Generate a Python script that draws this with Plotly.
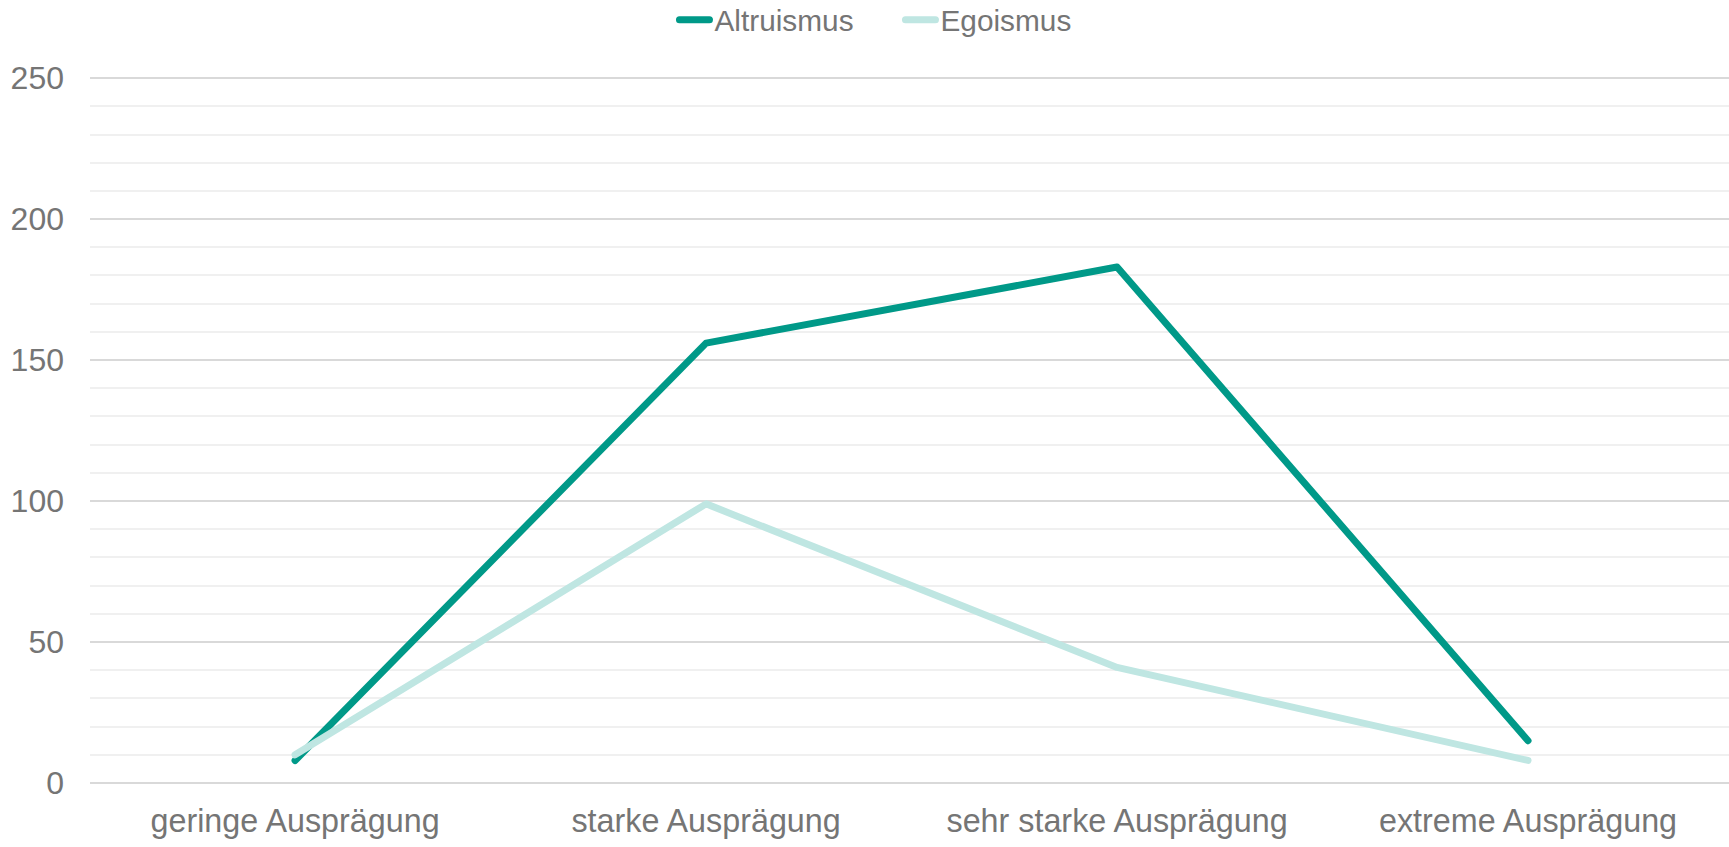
import plotly.graph_objects as go

categories = ["geringe Ausprägung", "starke Ausprägung", "sehr starke Ausprägung", "extreme Ausprägung"]
altruismus = [8, 156, 183, 15]
egoismus = [10, 99, 41, 8]
y_ticks = [0, 50, 100, 150, 200, 250]

FONT = "Arial, Liberation Sans, sans-serif"
GRAY = "#757575"

fig = go.Figure()
fig.add_trace(go.Scatter(x=categories, y=altruismus, name="Altruismus", mode="lines",
                         line=dict(color="#009988", width=7)))
fig.add_trace(go.Scatter(x=categories, y=egoismus, name="Egoismus", mode="lines",
                         line=dict(color="#bfe6e2", width=7)))

fig.update_layout(
    width=1729, height=847,
    paper_bgcolor="white", plot_bgcolor="white",
    margin=dict(l=90, r=0, t=77, b=64),
    font=dict(family=FONT, color=GRAY),
    showlegend=True,
    legend=dict(orientation="h", xref="container", yref="container", x=0.5208, xanchor="center",
                y=1 - 20 / 847, yanchor="middle", font=dict(size=29.8, color=GRAY, family=FONT),
                itemwidth=30, tracegroupgap=0, entrywidth=181, entrywidthmode="pixels"),
    xaxis=dict(showgrid=False, showline=False, zeroline=False, ticks="",
               range=[-0.499, 3.489], automargin=False,
               tickfont=dict(size=32.3, color=GRAY, family=FONT), ticklabelstandoff=16,
               fixedrange=True),
    yaxis=dict(range=[0, 250.4], tickvals=y_ticks, showline=False, ticks="", automargin=False,
               gridcolor="#d9d9d9", gridwidth=1.5, zeroline=True, zerolinecolor="#d9d9d9",
               zerolinewidth=1.5,
               minor=dict(dtick=10, showgrid=True, gridcolor="#f0f0f0", gridwidth=1.5),
               tickfont=dict(size=32, color=GRAY, family=FONT), ticklabelstandoff=25,
               fixedrange=True),
)

post = """
document.body.style.margin='0';
document.querySelectorAll('.scatterlayer .js-line, .legendlines path').forEach(function(p){
  p.style.strokeLinecap='round'; p.style.strokeLinejoin='round';
});
"""
fig.write_html("out.html", post_script=post, config={"displayModeBar": False})
